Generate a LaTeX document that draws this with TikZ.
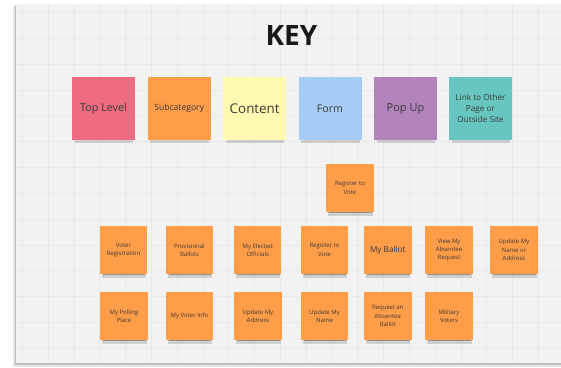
\documentclass[tikz,border=0pt]{standalone}
\usepackage{fontspec}
\setmainfont{Open Sans}
\usetikzlibrary{shadows}
\definecolor{boardgrey}{HTML}{F2F2F2}
\definecolor{gridgrey}{HTML}{E8E8E8}
\definecolor{inktext}{HTML}{3A3A3A}
\definecolor{toppink}{HTML}{EE6B80}
\definecolor{suborange}{HTML}{FF9D48}
\definecolor{contentyellow}{HTML}{FFF9B1}
\definecolor{formblue}{HTML}{A6CCF5}
\definecolor{popviolet}{HTML}{B384BB}
\definecolor{linkteal}{HTML}{67C6C0}
\tikzset{
  sticky/.style={inner sep=1pt, align=center, text=inktext,
    general shadow={fill=black, opacity=.14, shadow xshift=.5pt, shadow yshift=-6pt, shadow scale=.93},
    general shadow={fill=black, opacity=.3, shadow xshift=.5pt, shadow yshift=-4pt, shadow scale=.9}},
  keynote/.style={sticky, minimum width=63pt, minimum height=63pt},
  pagenote/.style={sticky, fill=suborange, minimum width=47.5pt, minimum height=48pt,
    font=\fontsize{6}{8.4}\selectfont},
  gridline/.style={draw=gridgrey, line width=.45pt}
}
\begin{document}
\begin{tikzpicture}[x=1pt,y=-1pt]
	\useasboundingbox (0,0) rectangle (561,367);
	% board
	\fill[black,opacity=.1] (13,6) rectangle (561,366.5);
	\fill[black,opacity=.18] (14.6,5) rectangle (561,364.6);
	\fill[boardgrey] (16,4) rectangle (561,363);
	\foreach \x in {22.2,48,...,561} \draw[gridline] (\x,4) -- (\x,363);
	\foreach \y in {12.7,38.5,...,363} \draw[gridline] (16,\y) -- (561,\y);
	% key
	\node[text=black!90, font=\bfseries\fontsize{28}{30}\selectfont] (keytitle) at (291.5,36) {KEY};
	\node[keynote, fill=toppink, font=\fontsize{10.8}{13}\selectfont] (toplevel) at (103.5,108.5) {Top Level};
	\node[keynote, fill=suborange, font=\fontsize{8.6}{11}\selectfont] (subcat) at (179.2,108.5) {Subcategory};
	\node[keynote, fill=contentyellow, font=\fontsize{13.4}{16}\selectfont] (content) at (254.7,108.5) {Content};
	\node[keynote, fill=formblue, font=\fontsize{10.6}{13}\selectfont] (form) at (330,108.5) {Form};
	\node[keynote, fill=popviolet, font=\fontsize{11}{13}\selectfont] (popup) at (405.5,108.5) {Pop Up};
	\node[keynote, fill=linkteal, font=\fontsize{8.2}{10.8}\selectfont] (extlink) at (480.5,108.5) {Link to Other\\Page or\\Outside Site};
	% site map
	\node[pagenote] (register) at (350,188) {Register to\\Vote};
	\node[pagenote] (voterreg) at (123.5,250) {Voter\\Registration};
	\node[pagenote] (provisional) at (189.5,250) {Provisional\\Ballots};
	\node[pagenote] (officials) at (257.7,250) {My Elected\\Officials};
	\node[pagenote] (regvote) at (324.5,250) {Register to\\Vote};
	\node[pagenote, font=\fontsize{8.2}{10}\selectfont] (myballot) at (387.8,250) {My Ballot};
	\node[pagenote] (viewreq) at (449,250) {View My\\Absentee\\Request};
	\node[pagenote] (updnameaddr) at (514,250) {Update My\\Name or\\Address};
	\node[pagenote] (polling) at (124,316) {My Polling\\Place};
	\node[pagenote] (voterinfo) at (189.5,316) {My Voter Info};
	\node[pagenote] (updaddr) at (258,316) {Update My\\Address};
	\node[pagenote] (updname) at (324.5,316) {Update My\\Name};
	\node[pagenote] (reqballot) at (387.8,316) {Request an\\Absentee\\Ballot};
	\node[pagenote] (military) at (449,316) {Military\\Voters};
\end{tikzpicture}
\end{document}
